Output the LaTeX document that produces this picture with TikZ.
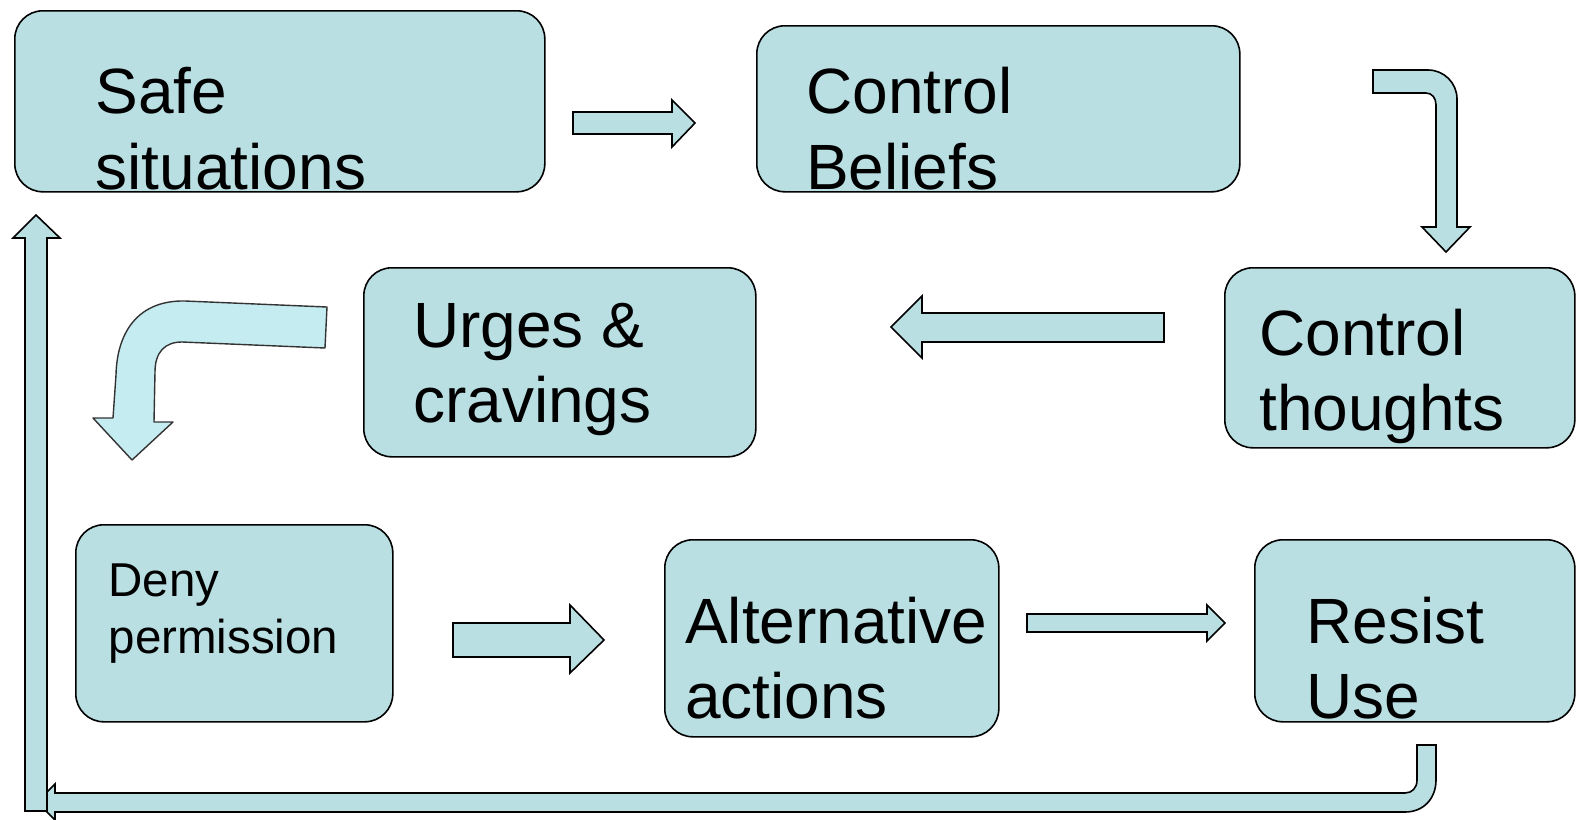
\documentclass[tikz,border=0pt]{standalone}
\usepackage{fontspec}
\setmainfont{Liberation Sans}
\definecolor{boxfill}{RGB}{185,223,227}
\definecolor{bendfill}{RGB}{197,236,240}
\tikzset{
  box/.style={draw=black, fill=boxfill, line width=1.6, rounded corners=28,
              anchor=north west, inner sep=0},
  big/.style={anchor=base west, inner sep=0, font=\fontsize{64}{76}\selectfont},
  small/.style={anchor=base west, inner sep=0, font=\fontsize{47.5}{57}\selectfont},
  blockarrow/.style={draw=black, fill=boxfill, line width=1.6, line join=miter},
  softarrow/.style={draw=black!80, fill=bendfill, line width=1.4, line join=round}
}
\begin{document}
\begin{tikzpicture}[x=1pt, y=-1pt]
\useasboundingbox (0,0) rectangle (1576,819);

% boxes
\node[box, minimum width=530, minimum height=181] (safe)    at (14,10)   {};
\node[box, minimum width=483, minimum height=166] (beliefs) at (756,25)  {};
\node[box, minimum width=350, minimum height=180] (thoughts) at (1224,267) {};
\node[box, minimum width=392, minimum height=189] (urges)   at (363,267) {};
\node[box, minimum width=317, minimum height=197] (deny)    at (75,524)  {};
\node[box, minimum width=334, minimum height=197] (altern)  at (664,539) {};
\node[box, minimum width=320, minimum height=182] (resist)  at (1254,539) {};

% labels
\node[big] (safeA) at (95.5,113.5) {Safe};
\node[big] (safeB) at (95.5,189) {situations};
\node[big] (belA) at (806,113.5) {Control};
\node[big] (belB) at (806,189) {Beliefs};
\node[big] (thA) at (1259,355) {Control};
\node[big] (thB) at (1259,430) {thoughts};
\node[big] (urA) at (413,347) {Urges \&};
\node[big] (urB) at (413,422) {cravings};
\node[small] (dnA) at (108.5,596) {Deny};
\node[small] (dnB) at (108.5,653) {permission};
\node[big] (alA) at (685,643) {Alternative};
\node[big] (alB) at (685,718) {actions};
\node[big] (rsA) at (1306,643) {Resist};
\node[big] (rsB) at (1306,718) {Use};

% safe situations -> control beliefs
\draw[blockarrow] (573,112) -- (672,112) -- (672,100) -- (695,123) -- (672,147)
  -- (672,134) -- (573,134) -- cycle;

% control beliefs -> control thoughts (bent down)
\draw[blockarrow] (1373,70) -- (1428,70) .. controls (1444,70) and (1457,83) .. (1457,99)
  -- (1457,227) -- (1470,227) -- (1446,252) -- (1422,227) -- (1436,227)
  -- (1436,105) .. controls (1436,98) and (1432,93) .. (1426,93) -- (1373,93) -- cycle;

% control thoughts -> urges
\draw[blockarrow] (1164,313) -- (922,313) -- (922,296) -- (891,327) -- (922,358)
  -- (922,342) -- (1164,342) -- cycle;

% urges -> deny permission (curved)
\draw[softarrow] (327,307) -- (185,301) .. controls (140,300) and (117,330) .. (116,375)
  -- (113,418) -- (93,418) -- (132,460) -- (173,422) -- (154,422)
  -- (155,372) .. controls (155,352) and (165,342) .. (182,342)
  -- (325,348) -- cycle;

% deny permission -> alternative actions
\draw[blockarrow] (453,623) -- (570,623) -- (570,605) -- (604,640) -- (570,673)
  -- (570,657) -- (453,657) -- cycle;

% alternative actions -> resist use
\draw[blockarrow] (1027,614) -- (1207,614) -- (1207,605) -- (1225,623) -- (1207,641)
  -- (1207,632) -- (1027,632) -- cycle;

% resist use -> back along the bottom
\draw[blockarrow] (1417,745) -- (1436,745) -- (1436,780)
  .. controls (1436,798) and (1424,812) .. (1405,812)
  -- (55,812) -- (55,820) -- (37,802) -- (55,784) -- (55,793) -- (1405,793)
  .. controls (1412,793) and (1417,788) .. (1417,780) -- cycle;

% up the left side to safe situations
\draw[blockarrow] (25,811) -- (25,238) -- (13,238) -- (36,215) -- (60,238)
  -- (47,238) -- (47,811) -- cycle;
\end{tikzpicture}
\end{document}
